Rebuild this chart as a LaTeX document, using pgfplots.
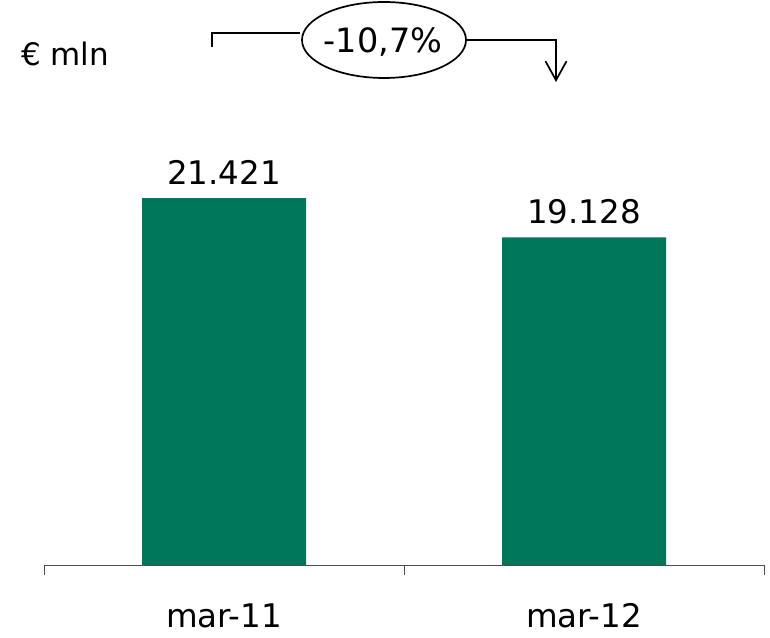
\documentclass[border=0pt]{standalone}
\usepackage{pgfplots}
\pgfplotsset{compat=1.18}
\usepackage{fontspec}
\setmainfont{DejaVu Sans}
\usetikzlibrary{arrows.meta}
\definecolor{bargreen}{RGB}{0,118,90}
\newcommand{\bigf}{\fontsize{32.5bp}{38bp}\selectfont}
\begin{document}
\begin{tikzpicture}
\begin{axis}[
  scale only axis, width=720bp, height=565bp,
  xmin=-0.5, xmax=1.5, ymin=0, ymax=32978,
  axis x line*=bottom, axis y line=none,
  ytick=\empty,
  xtick={-0.5,0.5,1.5}, xticklabels={},
  extra x ticks={0,1}, extra x tick labels={mar-11,mar-12},
  extra x tick style={major tick length=0pt},
  tick align=outside, major tick length=10bp,
  x axis line style={black!70, line width=1bp},
  tick style={black!70, line width=1bp},
  xticklabel style={font=\bigf, anchor=base, yshift=-62bp, inner sep=0pt},
  ybar, bar width=164bp,
  point meta=explicit symbolic,
  nodes near coords,
  every node near coord/.append style={font=\bigf, anchor=base, yshift=14bp, inner sep=0pt},
  clip=false,
]
\addplot[fill=bargreen, draw=none] coordinates {(0,21421) [21.421] (1,19128) [19.128]};
\coordinate (TL) at (rel axis cs:0,1);
\end{axis}
\begin{scope}[shift={(TL)}, x=1bp, y=-1bp, xshift=-44bp]
\path (0,0) rectangle (770,633);
\node[anchor=base west, inner sep=0pt, font=\fontsize{31bp}{37bp}\selectfont] at (21,66) {€ mln};
\draw[line width=1.7bp] (212,47) -- (212,33) -- (300,33);
\draw[line width=1.7bp] (384,40) ellipse [x radius=82, y radius=38];
\node[anchor=base, inner sep=0pt, font=\fontsize{33.5bp}{39bp}\selectfont] at (383,53) {-10,7\%};
\draw[line width=1.7bp, -{Straight Barb[length=19bp, width=21bp]}] (466,40) -- (556,40) -- (556,82);
\end{scope}
\end{tikzpicture}
\end{document}
